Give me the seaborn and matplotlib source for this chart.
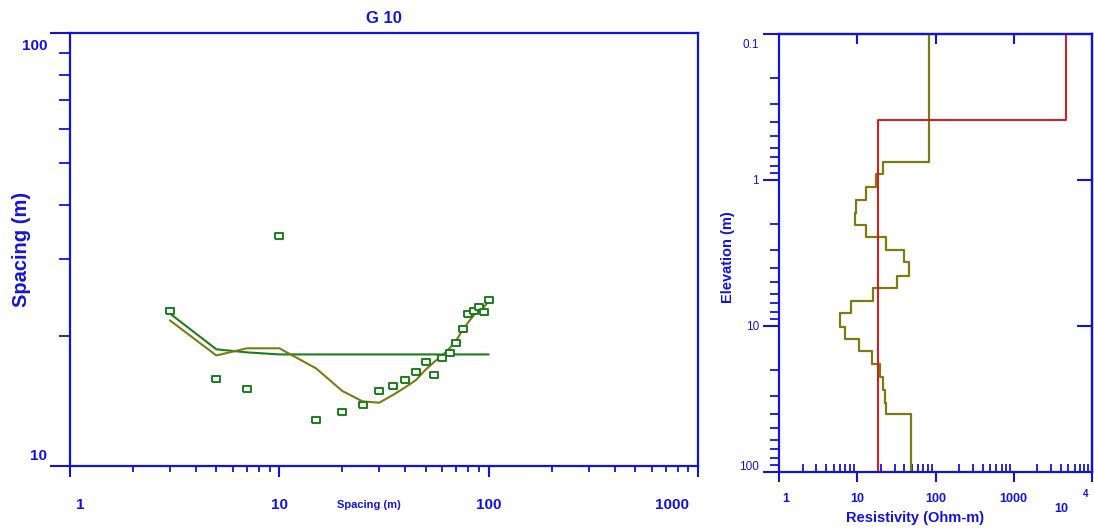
import numpy as np
import pandas as pd
import matplotlib
matplotlib.use("Agg")
import matplotlib.pyplot as plt
import matplotlib.ticker as mticker
import matplotlib.transforms as mtransforms
import seaborn as sns

# ---------------- data ----------------
# Left panel: sounding curve
spacing = [3, 5, 7, 10, 15, 20, 25, 30, 35, 40, 45, 50, 55, 60, 65, 70, 75, 80, 85, 90, 95, 100]
observed = [22.8, 15.9, 15.1, 34.0, 12.8, 13.3, 13.8, 14.9, 15.3, 15.8, 16.5, 17.4,
            16.2, 17.8, 18.2, 19.2, 20.7, 22.5, 22.8, 23.3, 22.7, 24.2]
layered_response = [22.5, 18.6, 18.3, 18.1, 18.1, 18.1, 18.1, 18.1, 18.1, 18.1, 18.1,
                    18.1, 18.1, 18.1, 18.1, 18.1, 18.1, 18.1, 18.1, 18.1, 18.1, 18.1]
smooth_response = [21.7, 18.0, 18.7, 18.7, 16.8, 14.9, 14.1, 14.0, 14.6, 15.2, 15.8,
                   16.7, 17.4, 18.0, 18.7, 19.5, 20.6, 21.5, 22.3, 22.9, 23.3, 24.0]
left_x_ticks = [1, 10, 100, 1000]
left_x_labels = ["1", "10", "100", "1000"]
left_y_ticks = [10, 100]
left_y_labels = ["10", "100"]

# Right panel: resistivity models vs elevation
smooth_bounds = [0.1, 0.75, 0.91, 1.12, 1.38, 1.67, 2.03, 2.47, 3.01, 3.67, 4.54, 5.53,
                 6.72, 8.19, 10.1, 12.3, 14.9, 18.3, 22.3, 27.4, 33.6, 40.3, 100]
smooth_rho = [82, 21.1, 17.2, 12.8, 9.6, 9.3, 12.8, 23, 39.5, 46, 31.8, 15.7,
              8.3, 6.1, 6.9, 10.4, 15.4, 19.5, 21.5, 22.8, 23.0, 49]
layer_bounds = [0.1, 0.39, 100]
layer_rho = [4600, 18.5]
right_x_ticks = [1, 10, 100, 1000, 10000]
right_x_labels = ["1", "10", "100", "1000", "10"]
right_y_ticks = [0.1, 1, 10, 100]
right_y_labels = ["0.1", "1", "10", "100"]

# ---------------- style ----------------
BLUE = "#1414D8"
GREEN = "#1B7D1B"
OLIVE = "#7C7A14"
RED = "#E01414"

sns.set_style("white")
plt.rcParams["font.family"] = ["Liberation Sans", "DejaVu Sans"]
plt.rcParams["font.weight"] = "bold"

DPI = 100
fig = plt.figure(figsize=(10.94, 5.31), dpi=DPI)
ax1 = fig.add_axes([70 / 1094, 1 - 466 / 531, 628 / 1094, 433 / 531])
ax2 = fig.add_axes([779 / 1094, 1 - 472 / 531, 313 / 1094, 438 / 531])


def shift(label, dx_px, dy_px):
    label.set_transform(label.get_transform() + mtransforms.ScaledTranslation(
        dx_px / DPI, dy_px / DPI, fig.dpi_scale_trans))


def steps(bounds, rho):
    b = np.asarray(bounds, dtype=float)
    x = np.repeat(np.asarray(rho, dtype=float), 2)
    y = np.column_stack([b[:-1], b[1:]]).ravel()
    return x, y


# ---------------- left panel ----------------
df_left = pd.DataFrame({"spacing": spacing, "observed": observed,
                        "layered": layered_response, "smooth": smooth_response})
sns.lineplot(data=df_left, x="spacing", y="layered", ax=ax1, color=GREEN, lw=1.5,
             estimator=None, sort=False, zorder=2)
sns.lineplot(data=df_left, x="spacing", y="smooth", ax=ax1, color=OLIVE, lw=1.5,
             estimator=None, sort=False, zorder=2)
rect = [(-1.6, -1), (1.6, -1), (1.6, 1), (-1.6, 1), (-1.6, -1)]
sns.scatterplot(data=df_left, x="spacing", y="observed", ax=ax1, marker=rect, s=38,
                facecolor="white", edgecolor=GREEN, linewidth=1.4, zorder=3)

ax1.set_xscale("log")
ax1.set_yscale("log")
ax1.set_xlim(1, 1000)
ax1.set_ylim(10, 100)
ax1.xaxis.set_major_locator(mticker.FixedLocator(left_x_ticks))
ax1.xaxis.set_major_formatter(mticker.FixedFormatter(left_x_labels))
ax1.xaxis.set_minor_locator(mticker.LogLocator(base=10, subs=np.arange(2, 10), numticks=30))
ax1.xaxis.set_minor_formatter(mticker.NullFormatter())
ax1.yaxis.set_major_locator(mticker.FixedLocator(left_y_ticks))
ax1.yaxis.set_major_formatter(mticker.FixedFormatter(left_y_labels))
ax1.yaxis.set_minor_locator(mticker.LogLocator(base=10, subs=np.arange(2, 10), numticks=30))
ax1.yaxis.set_minor_formatter(mticker.NullFormatter())

ax1.tick_params(axis="x", which="major", direction="out", length=8, width=1.5, pad=15,
                labelsize=11, colors=BLUE, bottom=True, top=False)
ax1.tick_params(axis="x", which="minor", direction="out", length=4.5, width=1.3,
                colors=BLUE, bottom=True, top=False)
ax1.tick_params(axis="y", which="major", direction="out", length=14.4, width=1.5, pad=2,
                labelsize=11, colors=BLUE, left=True, right=False)
ax1.tick_params(axis="y", which="minor", direction="out", length=7.7, width=1.3,
                colors=BLUE, left=True, right=False)
for sp in ax1.spines.values():
    sp.set_color(BLUE)
    sp.set_linewidth(1.6)

ax1.set_title("G 10", color=BLUE, fontsize=12, fontweight="bold", pad=7)
ax1.set_xlabel("Spacing (m)", color=BLUE, fontsize=8, fontweight="bold", va="center")
ax1.xaxis.set_label_coords((369 - 70) / 628, (466 - 505) / 433)
ax1.set_ylabel("Spacing (m)", color=BLUE, fontsize=14.5, fontweight="bold", va="center")
ax1.yaxis.set_label_coords((22 - 70) / 628, 0.5)

# ---------------- right panel ----------------
sx, sy = steps(smooth_bounds, smooth_rho)
lx, ly = steps(layer_bounds, layer_rho)
df_smooth = pd.DataFrame({"rho": sx, "elev": sy})
df_layer = pd.DataFrame({"rho": lx, "elev": ly})
sns.lineplot(data=df_smooth, x="rho", y="elev", ax=ax2, color=OLIVE, lw=1.6,
             estimator=None, sort=False)
sns.lineplot(data=df_layer, x="rho", y="elev", ax=ax2, color=RED, lw=1.4,
             estimator=None, sort=False)

ax2.set_xscale("log")
ax2.set_yscale("log")
ax2.set_xlim(1, 1e4)
ax2.set_ylim(100, 0.1)
ax2.xaxis.set_major_locator(mticker.FixedLocator(right_x_ticks))
ax2.xaxis.set_major_formatter(mticker.FixedFormatter(right_x_labels))
ax2.xaxis.set_minor_locator(mticker.LogLocator(base=10, subs=np.arange(2, 10), numticks=30))
ax2.xaxis.set_minor_formatter(mticker.NullFormatter())
ax2.yaxis.set_major_locator(mticker.FixedLocator(right_y_ticks))
ax2.yaxis.set_major_formatter(mticker.FixedFormatter(right_y_labels))
ax2.yaxis.set_minor_locator(mticker.LogLocator(base=10, subs=np.arange(2, 10), numticks=30))
ax2.yaxis.set_minor_formatter(mticker.NullFormatter())

ax2.tick_params(axis="x", which="major", direction="out", length=7, width=1.5, pad=8,
                labelsize=9, colors=BLUE, bottom=True, top=False)
ax2.tick_params(axis="x", which="minor", direction="in", length=6, width=1.3,
                colors=BLUE, bottom=True, top=False)
ax2.tick_params(axis="y", which="major", direction="out", length=11.5, width=1.5, pad=3,
                labelsize=8.5, colors=BLUE, left=True, right=False)
ax2.tick_params(axis="y", which="minor", direction="out", length=6.5, width=1.3,
                colors=BLUE, left=True, right=False)
for lab in ax2.get_yticklabels():
    lab.set_fontweight("normal")
for sp in ax2.spines.values():
    sp.set_color(BLUE)
    sp.set_linewidth(1.6)

sec_top = ax2.secondary_xaxis("top")
sec_top.xaxis.set_major_locator(mticker.FixedLocator([10, 100, 1000]))
sec_top.xaxis.set_major_formatter(mticker.NullFormatter())
sec_top.xaxis.set_minor_locator(mticker.NullLocator())
sec_top.tick_params(axis="x", which="major", direction="in", length=7, width=1.5, colors=BLUE)
sec_top.spines["top"].set_color(BLUE)
sec_top.spines["top"].set_linewidth(1.6)

sec_right = ax2.secondary_yaxis("right")
sec_right.yaxis.set_major_locator(mticker.FixedLocator([1, 10]))
sec_right.yaxis.set_major_formatter(mticker.NullFormatter())
sec_right.yaxis.set_minor_locator(mticker.NullLocator())
sec_right.tick_params(axis="y", which="major", direction="in", length=11, width=1.5, colors=BLUE)
sec_right.spines["right"].set_color(BLUE)
sec_right.spines["right"].set_linewidth(1.6)

ax2.set_xlabel("Resistivity (Ohm-m)", color=BLUE, fontsize=10.5, fontweight="bold", va="center")
ax2.xaxis.set_label_coords((915 - 779) / 313, (472 - 518) / 438)
ax2.set_ylabel("Elevation (m)", color=BLUE, fontsize=10.5, fontweight="bold", va="center")
ax2.yaxis.set_label_coords((728 - 779) / 313, (472 - 257) / 438)

ax2.annotate("4", xy=(1, 0), xycoords="axes fraction", xytext=(-4.5, -15.5),
             textcoords="offset points", ha="center", va="center",
             fontsize=7, fontweight="bold", color=BLUE)

# ---------------- tick label placement tweaks ----------------
fig.canvas.draw()
xl = ax1.get_xticklabels()
shift(xl[0], 10, 0)
shift(xl[-1], -26, 0)
yl = ax1.get_yticklabels()
shift(yl[0], 0, 11)
shift(yl[-1], 0, -12)

xl2 = ax2.get_xticklabels()
shift(xl2[0], 7, 0)
shift(xl2[-1], -31, -10)
yl2 = ax2.get_yticklabels()
for lab in yl2:
    lab.set_fontweight("normal")
shift(yl2[0], 0, -9)
shift(yl2[-1], 0, 7)

fig.savefig("out.png", dpi=DPI)
